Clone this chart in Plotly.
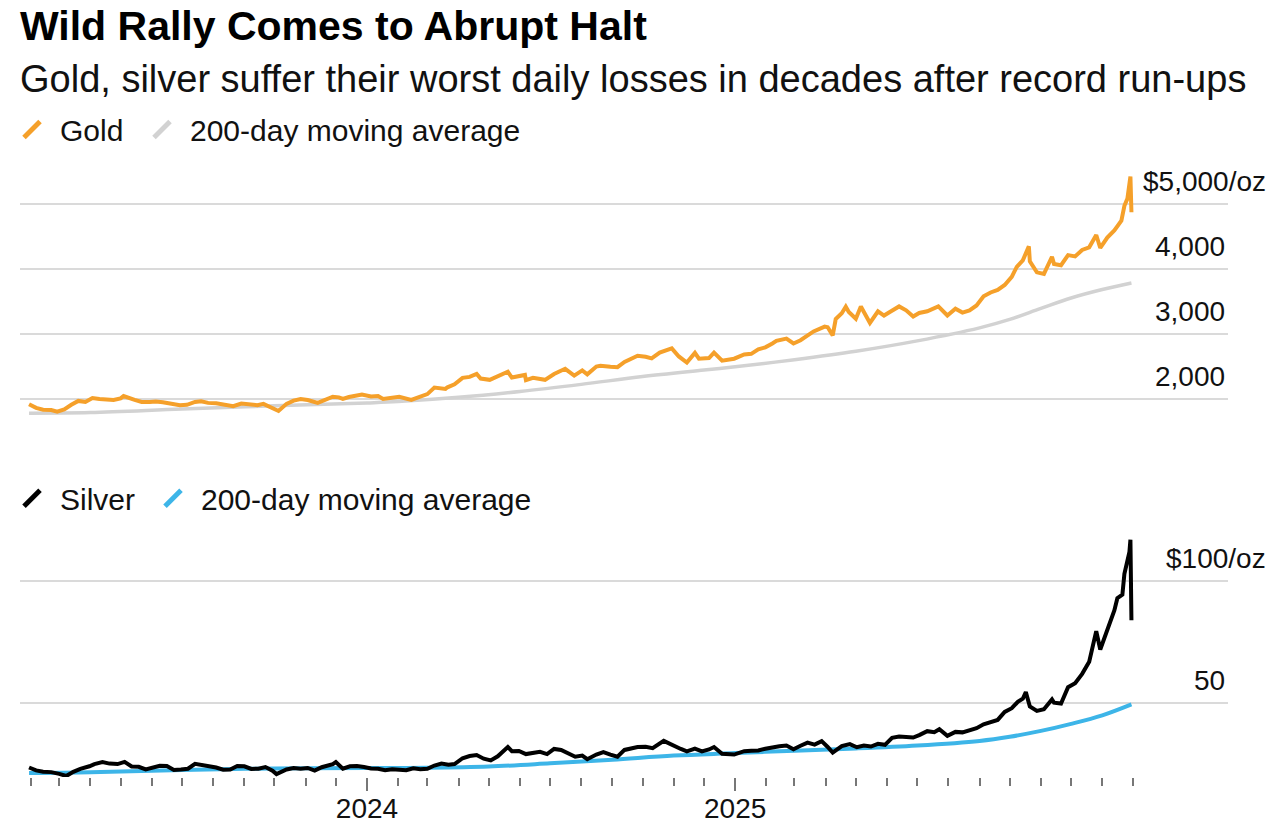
import plotly.graph_objects as go
import pandas as pd

# ---------------- data ----------------
gold_dates = ["2023-01-30","2023-02-06","2023-02-13","2023-02-21","2023-02-27","2023-03-06","2023-03-13","2023-03-20","2023-03-27",
"2023-04-03","2023-04-10","2023-04-17","2023-04-24","2023-05-01","2023-05-04","2023-05-15","2023-05-22","2023-05-30","2023-06-05",
"2023-06-12","2023-06-20","2023-06-29","2023-07-06","2023-07-14","2023-07-20","2023-07-27","2023-08-04","2023-08-14","2023-08-21",
"2023-08-29","2023-09-05","2023-09-14","2023-09-20","2023-09-28","2023-10-05","2023-10-13","2023-10-20","2023-10-27","2023-11-03",
"2023-11-13","2023-11-21","2023-11-28","2023-12-04","2023-12-08","2023-12-14","2023-12-27","2024-01-05","2024-01-12","2024-01-17",
"2024-01-26","2024-02-02","2024-02-14","2024-02-23","2024-03-01","2024-03-08","2024-03-19","2024-03-21","2024-03-28","2024-04-05",
"2024-04-12","2024-04-19","2024-04-23","2024-05-02","2024-05-10","2024-05-20","2024-05-24","2024-06-06","2024-06-07","2024-06-14",
"2024-06-26","2024-07-05","2024-07-16","2024-07-25","2024-08-02","2024-08-07","2024-08-16","2024-08-20","2024-08-30","2024-09-06",
"2024-09-13","2024-09-20","2024-09-26","2024-10-04","2024-10-10","2024-10-18","2024-10-30","2024-11-06","2024-11-14","2024-11-22",
"2024-11-26","2024-12-06","2024-12-11","2024-12-19","2024-12-31","2025-01-10","2025-01-17","2025-01-24","2025-01-31","2025-02-07",
"2025-02-11","2025-02-21","2025-02-28","2025-03-07","2025-03-14","2025-03-20","2025-03-31","2025-04-03","2025-04-08","2025-04-11",
"2025-04-17","2025-04-21","2025-04-24","2025-05-01","2025-05-06","2025-05-15","2025-05-23","2025-05-29","2025-06-05","2025-06-13",
"2025-06-20","2025-06-27","2025-07-03","2025-07-11","2025-07-22","2025-07-31","2025-08-08","2025-08-15","2025-08-22","2025-08-29",
"2025-09-05","2025-09-12","2025-09-19","2025-09-26","2025-10-03","2025-10-08","2025-10-14","2025-10-20","2025-10-21","2025-10-28",
"2025-11-04","2025-11-12","2025-11-14","2025-11-21","2025-11-28","2025-12-05","2025-12-12","2025-12-19","2025-12-26","2025-12-30",
"2026-01-06","2026-01-13","2026-01-20","2026-01-23","2026-01-26","2026-01-28","2026-01-29","2026-01-30"]
gold_price = [1925,1868,1840,1835,1810,1845,1915,1975,1960,
2020,2005,1995,1990,2015,2050,1990,1960,1960,1965,
1955,1935,1910,1915,1960,1970,1945,1940,1905,1895,
1935,1925,1910,1930,1865,1820,1930,1980,2005,1990,
1945,1995,2040,2030,2005,2035,2075,2045,2050,2005,
2020,2040,1990,2035,2080,2180,2160,2185,2230,2330,
2345,2390,2320,2300,2360,2425,2335,2375,2295,2330,
2300,2390,2470,2365,2445,2385,2505,2515,2500,2495,
2575,2620,2670,2655,2630,2720,2785,2660,2565,2715,
2625,2635,2720,2595,2625,2690,2700,2770,2800,2860,
2900,2935,2860,2910,2985,3045,3120,3110,2985,3235,
3325,3425,3345,3240,3430,3175,3355,3290,3355,3430,
3370,3275,3330,3355,3430,3290,3395,3335,3370,3445,
3585,3645,3685,3760,3885,4040,4140,4355,4125,3955,
3930,4195,4085,4065,4220,4200,4300,4340,4530,4330,
4490,4600,4750,4980,5090,5300,5430,4880]

gold_ma_dates = ["2023-01-30","2023-04-01","2023-07-01","2023-10-01","2024-01-01","2024-02-01","2024-04-01","2024-06-01",
"2024-08-01","2024-10-01","2024-12-01","2025-01-01","2025-03-01","2025-05-01","2025-07-01","2025-09-01","2025-10-01",
"2025-11-01","2025-12-01","2026-01-01","2026-01-30"]
gold_ma = [1785,1795,1850,1900,1945,1965,2030,2120,2230,2350,2450,2500,2610,2740,2900,3100,3230,3400,3560,3690,3790]

silver_dates = ["2023-01-30","2023-02-06","2023-02-13","2023-02-21","2023-03-01","2023-03-08","2023-03-15","2023-03-22","2023-03-31",
"2023-04-05","2023-04-13","2023-04-20","2023-04-28","2023-05-05","2023-05-12","2023-05-19","2023-05-26","2023-06-02","2023-06-09",
"2023-06-16","2023-06-23","2023-06-30","2023-07-07","2023-07-14","2023-07-21","2023-07-28","2023-08-04","2023-08-11","2023-08-18",
"2023-08-25","2023-09-01","2023-09-08","2023-09-15","2023-09-22","2023-09-29","2023-10-03","2023-10-13","2023-10-20","2023-10-27",
"2023-11-03","2023-11-10","2023-11-17","2023-11-28","2023-12-01","2023-12-08","2023-12-15","2023-12-22","2023-12-29","2024-01-05",
"2024-01-12","2024-01-19","2024-01-26","2024-02-02","2024-02-09","2024-02-16","2024-02-23","2024-03-01","2024-03-08","2024-03-15",
"2024-03-22","2024-03-28","2024-04-05","2024-04-12","2024-04-19","2024-04-26","2024-05-03","2024-05-10","2024-05-20","2024-05-24",
"2024-05-31","2024-06-07","2024-06-14","2024-06-21","2024-06-28","2024-07-05","2024-07-12","2024-07-19","2024-07-26","2024-08-02",
"2024-08-07","2024-08-16","2024-08-23","2024-08-30","2024-09-06","2024-09-13","2024-09-20","2024-09-26","2024-10-04","2024-10-11",
"2024-10-22","2024-10-31","2024-11-08","2024-11-14","2024-11-22","2024-11-29","2024-12-06","2024-12-11","2024-12-19","2024-12-31",
"2025-01-10","2025-01-17","2025-01-24","2025-01-31","2025-02-07","2025-02-14","2025-02-21","2025-02-28","2025-03-07","2025-03-14",
"2025-03-21","2025-03-28","2025-04-03","2025-04-08","2025-04-17","2025-04-25","2025-05-02","2025-05-09","2025-05-16","2025-05-23",
"2025-05-30","2025-06-06","2025-06-13","2025-06-20","2025-06-27","2025-07-03","2025-07-11","2025-07-18","2025-07-23","2025-07-31",
"2025-08-08","2025-08-15","2025-08-22","2025-08-29","2025-09-05","2025-09-12","2025-09-19","2025-09-26","2025-10-03","2025-10-09",
"2025-10-14","2025-10-17","2025-10-21","2025-10-28","2025-11-04","2025-11-12","2025-11-14","2025-11-21","2025-11-28","2025-12-05",
"2025-12-12","2025-12-19","2025-12-26","2025-12-30","2026-01-06","2026-01-13","2026-01-16","2026-01-21","2026-01-23","2026-01-26",
"2026-01-28","2026-01-29","2026-01-30"]
silver_price = [23.6,22.4,21.9,21.7,21.0,20.1,21.8,23.0,24.1,
25.0,25.8,25.2,25.0,25.9,24.0,23.9,22.8,23.6,24.3,
24.2,22.6,22.8,23.1,25.1,24.6,24.4,23.6,22.7,22.8,
24.2,24.1,23.0,23.1,23.8,22.3,20.9,22.8,23.4,23.1,
23.4,22.3,23.7,25.0,25.8,23.1,24.1,24.2,23.8,23.2,
23.1,22.5,22.9,22.8,22.5,23.3,22.9,23.1,24.4,25.2,
24.7,25.0,27.4,28.3,28.7,27.2,26.5,28.2,32.0,30.3,
30.4,29.1,29.6,30.0,29.1,31.2,30.8,29.2,28.0,28.5,
27.0,28.9,29.9,28.9,28.0,30.8,31.3,32.0,32.1,31.5,
34.5,32.6,31.2,30.2,31.3,30.2,31.0,32.0,29.2,28.9,
30.3,30.5,30.6,31.3,32.0,32.3,32.6,31.1,32.5,33.8,
33.0,34.4,32.0,29.7,32.4,33.2,31.9,32.6,32.2,33.3,
32.9,35.8,36.3,36.0,35.9,36.9,38.5,38.1,39.3,36.6,
38.2,38.0,38.9,39.7,41.3,42.2,43.1,46.4,47.9,50.5,
51.8,54.5,48.6,46.8,47.5,51.5,50.2,49.8,56.5,58.2,
62.0,67.0,79.5,72.0,80.0,88.0,93.0,94.5,103.0,108.0,
112.0,117.0,84.0]

silver_ma_dates = ["2023-01-30","2023-04-01","2023-07-01","2023-10-01","2024-01-01","2024-03-01","2024-05-01","2024-07-01",
"2024-09-01","2024-11-01","2025-01-01","2025-03-01","2025-05-01","2025-07-01","2025-09-01","2025-10-01","2025-11-01",
"2025-12-01","2026-01-01","2026-01-30"]
silver_ma = [21.3,21.6,22.6,23.2,23.4,23.5,24.0,25.3,26.8,28.5,29.5,30.5,31.4,32.6,34.5,36.2,38.6,41.5,45.0,49.5]

gold_ticks = [2000, 3000, 4000, 5000]
gold_tick_labels = ["2,000", "3,000", "4,000", "$5,000/oz"]
silver_ticks = [50, 100]
silver_tick_labels = ["50", "$100/oz"]
year_ticks = ["2024-01-01", "2025-01-01"]
year_labels = ["2024", "2025"]
month_ticks = [d.strftime("%Y-%m-%d") for d in pd.date_range("2023-02-01", "2026-02-01", freq="MS")]

x_range = ["2023-01-21", "2026-05-06"]

# ---------------- style ----------------
FONT = "Liberation Sans, Arial, Helvetica, sans-serif"
GOLD = "#F5A02A"
GOLD_MA = "#D2D2D2"
SILVER = "#000000"
SILVER_MA = "#3DB5E8"
GRID = "#DADADA"

W, H = 1276, 824
PLOT_L, PLOT_R, PLOT_T, PLOT_B = 20, 1228, 158.5, 777
ML, MR, MT, MB = PLOT_L, W - PLOT_R, PLOT_T, H - PLOT_B
PW = W - ML - MR
PH = H - MT - MB

def px_x(p):
    return (p - ML) / PW

def px_y(p):
    return (H - MB - p) / PH

fig = go.Figure()

fig.add_trace(go.Scatter(x=gold_ma_dates, y=gold_ma, mode="lines", line=dict(color=GOLD_MA, width=3.5, shape="spline"),
                         xaxis="x", yaxis="y", showlegend=False, hoverinfo="skip"))
fig.add_trace(go.Scatter(x=gold_dates, y=gold_price, mode="lines", line=dict(color=GOLD, width=4),
                         xaxis="x", yaxis="y", showlegend=False))
fig.add_trace(go.Scatter(x=silver_ma_dates, y=silver_ma, mode="lines", line=dict(color=SILVER_MA, width=4, shape="spline"),
                         xaxis="x2", yaxis="y2", showlegend=False, hoverinfo="skip"))
fig.add_trace(go.Scatter(x=silver_dates, y=silver_price, mode="lines", line=dict(color=SILVER, width=4),
                         xaxis="x2", yaxis="y2", showlegend=False))

# legend glyphs (slanted strokes), one legend per entry for exact placement
legend_items = [
    ("Gold", GOLD, "legend", 32, 129),
    ("200-day moving average", GOLD_MA, "legend2", 162, 129),
    ("Silver", SILVER, "legend3", 32, 498),
    ("200-day moving average", SILVER_MA, "legend4", 173, 498),
]
ITEMW = 46
legend_layouts = {}
for name, color, lg, gx, gy in legend_items:
    fig.add_trace(go.Scatter(x=[None], y=[None], mode="markers", name=name, legend=lg,
                             marker=dict(symbol="line-ne", size=20, color=color, line=dict(color=color, width=5)),
                             xaxis="x", yaxis="y"))
    legend_layouts[lg] = dict(orientation="h", x=px_x(gx - (ITEMW / 2 + 5)), y=px_y(gy), xanchor="left", yanchor="middle",
                              font=dict(family=FONT, size=30, color="#111"), bgcolor="rgba(0,0,0,0)",
                              itemclick=False, itemdoubleclick=False, itemwidth=ITEMW, borderwidth=0)

annotations = [
    dict(text="<b>Wild Rally Comes to Abrupt Halt</b>", x=px_x(18), y=px_y(25), xref="paper", yref="paper",
         xanchor="left", yanchor="middle", showarrow=False, font=dict(family=FONT, size=41, color="#000")),
    dict(text="Gold, silver suffer their worst daily losses in decades after record run-ups", x=px_x(18), y=px_y(78),
         xref="paper", yref="paper", xanchor="left", yanchor="middle", showarrow=False,
         font=dict(family=FONT, size=38, color="#111")),
]
for v, lab in zip(gold_ticks, gold_tick_labels):
    xr = 1268 if lab.endswith("/oz") else 1227
    annotations.append(dict(text=lab, x=px_x(xr), y=v, xref="paper", yref="y", xanchor="right", yanchor="middle",
                            yshift=23, showarrow=False, font=dict(family=FONT, size=28, color="#111")))
for v, lab in zip(silver_ticks, silver_tick_labels):
    xr = 1268 if lab.endswith("/oz") else 1227
    annotations.append(dict(text=lab, x=px_x(xr), y=v, xref="paper", yref="y2", xanchor="right", yanchor="middle",
                            yshift=23, showarrow=False, font=dict(family=FONT, size=28, color="#111")))

fig.update_layout(
    width=W, height=H,
    margin=dict(l=ML, r=MR, t=MT, b=MB, autoexpand=False),
    paper_bgcolor="white", plot_bgcolor="white",
    font=dict(family=FONT, color="#111"),
    xaxis=dict(domain=[0, 1], range=x_range, anchor="y", showticklabels=False, showgrid=False, zeroline=False,
               ticks="", showline=False),
    yaxis=dict(domain=[px_y(418.5), 1], range=[1700, 5700], anchor="x", tickvals=gold_ticks, showticklabels=False,
               showgrid=True, gridcolor=GRID, gridwidth=2, zeroline=False, ticks=""),
    xaxis2=dict(domain=[0, 1], range=x_range, anchor="y2", tickvals=year_ticks, ticktext=year_labels,
                ticks="outside", ticklen=13, tickwidth=2, tickcolor="#777", showgrid=False, zeroline=False,
                showline=False, tickfont=dict(family=FONT, size=28, color="#111"), ticklabelstandoff=-7,
                minor=dict(tickvals=month_ticks, ticks="outside", ticklen=8, tickwidth=2, tickcolor="#777",
                           showgrid=False)),
    yaxis2=dict(domain=[0, px_y(520)], range=[19.7, 125], anchor="x2", tickvals=silver_ticks, showticklabels=False,
                showgrid=True, gridcolor=GRID, gridwidth=2, zeroline=False, ticks=""),
    annotations=annotations,
    showlegend=True,
    hovermode=False,
    **legend_layouts,
)

# remove the default page margin so the 1276x824 figure fills the window exactly
fig.write_html("out.html", config={"displayModeBar": False, "staticPlot": False},
               post_script="document.body.style.margin='0';document.body.style.overflow='hidden';")
